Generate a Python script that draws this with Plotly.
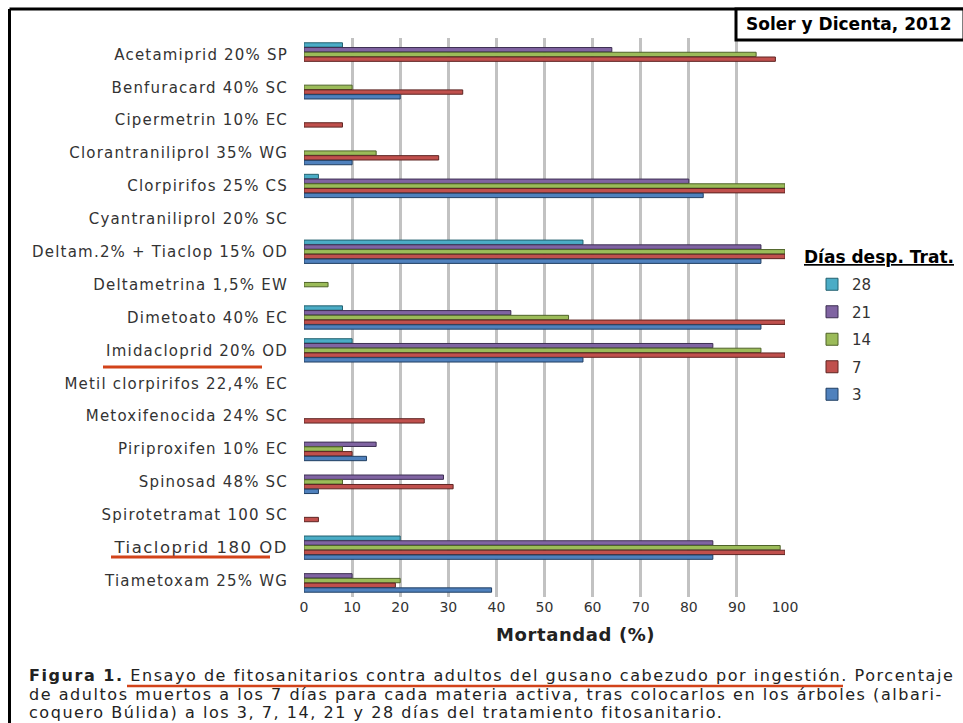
import plotly.graph_objects as go

# Active ingredients, top to bottom
categories = [
    "Acetamiprid 20% SP",
    "Benfuracard 40% SC",
    "Cipermetrin 10% EC",
    "Clorantraniliprol 35% WG",
    "Clorpirifos 25% CS",
    "Cyantraniliprol 20% SC",
    "Deltam.2% + Tiaclop 15% OD",
    "Deltametrina 1,5% EW",
    "Dimetoato 40% EC",
    "Imidacloprid 20% OD",
    "Metil clorpirifos 22,4% EC",
    "Metoxifenocida 24% SC",
    "Piriproxifen 10% EC",
    "Spinosad 48% SC",
    "Spirotetramat 100 SC",
    "Tiacloprid 180 OD",
    "Tiametoxam 25% WG",
]

# Mortality (%) by days after treatment; None = no bar
mort_28 = [8, None, None, None, 3, None, 58, None, 8, 10, None, None, None, None, None, 20, None]
mort_21 = [64, None, None, None, 80, None, 95, None, 43, 85, None, None, 15, 29, None, 85, 10]
mort_14 = [94, 10, None, 15, 100, None, 100, 5, 55, 95, None, None, 8, 8, None, 99, 20]
mort_7 = [98, 33, 8, 28, 100, None, 100, None, 100, 100, None, 25, 10, 31, 3, 100, 19]
mort_3 = [None, 20, None, 10, 83, None, 95, None, 95, 58, None, None, 13, 3, None, 85, 39]

day_labels = ["28", "21", "14", "7", "3"]
x_ticks = [0, 10, 20, 30, 40, 50, 60, 70, 80, 90, 100]

series = [mort_28, mort_21, mort_14, mort_7, mort_3]
fills = ["#4BACC6", "#8064A2", "#9BBB59", "#C0504D", "#4F81BD"]
edges = ["#23606f", "#3d2f52", "#4f6329", "#5e2422", "#213f63"]

W, H = 963, 723
L, R, T, B = 304, 178, 38, 126
PW, PH = W - L - R, H - T - B


def px(x):
    return (x - L) / PW


def py(y):
    return 1 - (y - T) / PH


fig = go.Figure()
for name, vals, fc, ec in zip(day_labels, series, fills, edges):
    fig.add_trace(go.Bar(
        y=categories, x=vals, orientation="h", name=name, legendgroup=name,
        marker=dict(color=fc, line=dict(color=ec, width=1)),
    ))


def tick_label(c):
    if c.startswith("Tiacloprid"):
        return f'<span style="font-size:16.5px;letter-spacing:1.5px">{c}</span>'
    return f'<span style="letter-spacing:1.2px">{c}</span>'


tick_text = [tick_label(c) for c in categories]

RED = "#D2431A"
shapes = [
    # page frame (left and top rules)
    dict(type="line", xref="paper", yref="paper", x0=px(9.5), x1=px(963), y0=py(9), y1=py(9),
         line=dict(color="black", width=3)),
    dict(type="line", xref="paper", yref="paper", x0=px(9.5), x1=px(9.5), y0=py(9), y1=py(723),
         line=dict(color="black", width=3)),
    # citation box
    dict(type="rect", xref="paper", yref="paper", x0=px(736), x1=px(964), y0=py(9), y1=py(40),
         line=dict(color="black", width=3), fillcolor="white"),
    # highlighted products
    dict(type="line", xref="paper", yref="paper", x0=px(103), x1=px(262), y0=py(367), y1=py(367),
         line=dict(color=RED, width=3)),
    dict(type="line", xref="paper", yref="paper", x0=px(111), x1=px(270), y0=py(557), y1=py(557),
         line=dict(color=RED, width=3)),
    # caption highlight
    dict(type="line", xref="paper", yref="paper", x0=px(127), x1=px(843), y0=py(686), y1=py(686),
         line=dict(color=RED, width=2.5)),
]

CAP_FONT = dict(family="DejaVu Sans", size=16, color="#222")
LS = "letter-spacing:1.55px"
caption_lines = [
    "<b>Figura 1.</b> Ensayo de fitosanitarios contra adultos del gusano cabezudo por ingestión. Porcentaje",
    "de adultos muertos a los 7 días para cada materia activa, tras colocarlos en los árboles (albari-",
    "coquero Búlida) a los 3, 7, 14, 21 y 28 días del tratamiento fitosanitario.",
]
annotations = [
    dict(text="Soler y Dicenta, 2012", xref="paper", yref="paper", x=px(849), y=py(24),
         xanchor="center", yanchor="middle", showarrow=False,
         font=dict(family="DejaVu Sans", size=17, color="black", weight="bold")),
    dict(text="<u>Días desp. Trat.</u>", xref="paper", yref="paper", x=px(802), y=py(257),
         xanchor="left", yanchor="middle", showarrow=False,
         font=dict(family="DejaVu Sans", size=17, color="black", weight="bold")),
    dict(text='<span style="letter-spacing:0.6px"><b>Mortandad (%)</b></span>',
         xref="paper", yref="paper", x=px(575), y=py(634),
         xanchor="center", yanchor="middle", showarrow=False,
         font=dict(family="DejaVu Sans", size=18, color="#222")),
]
for line, yy in zip(caption_lines, [675, 694, 712]):
    annotations.append(dict(
        text=f'<span style="{LS}">{line}</span>', xref="paper", yref="paper",
        x=px(27), y=py(yy), xanchor="left", yanchor="middle", showarrow=False, font=CAP_FONT,
    ))

fig.update_layout(
    width=W, height=H,
    margin=dict(l=L, r=R, t=T, b=B, autoexpand=False),
    paper_bgcolor="white", plot_bgcolor="white",
    barmode="group", bargap=0.28, bargroupgap=0.08,
    showlegend=True,
    legend=dict(
        x=px(812), y=py(268), xanchor="left", yanchor="top",
        traceorder="grouped", tracegroupgap=5,
        font=dict(family="DejaVu Sans", size=15, color="#333"),
        bgcolor="rgba(0,0,0,0)",
    ),
    xaxis=dict(
        range=[0, 100], tickmode="array", tickvals=x_ticks,
        showgrid=True, gridcolor="#c2c2c2", gridwidth=3, zeroline=False,
        showline=False, ticks="",
        tickfont=dict(family="DejaVu Sans", size=14, color="#333"),
    ),
    yaxis=dict(
        autorange="reversed", tickmode="array", tickvals=categories, ticktext=tick_text,
        showgrid=False, zeroline=False, showline=False, ticks="",
        ticklabelstandoff=15,
        tickfont=dict(family="DejaVu Sans", size=15, color="#333"),
    ),
    shapes=shapes,
    annotations=annotations,
)

fig.write_html("out.html")
